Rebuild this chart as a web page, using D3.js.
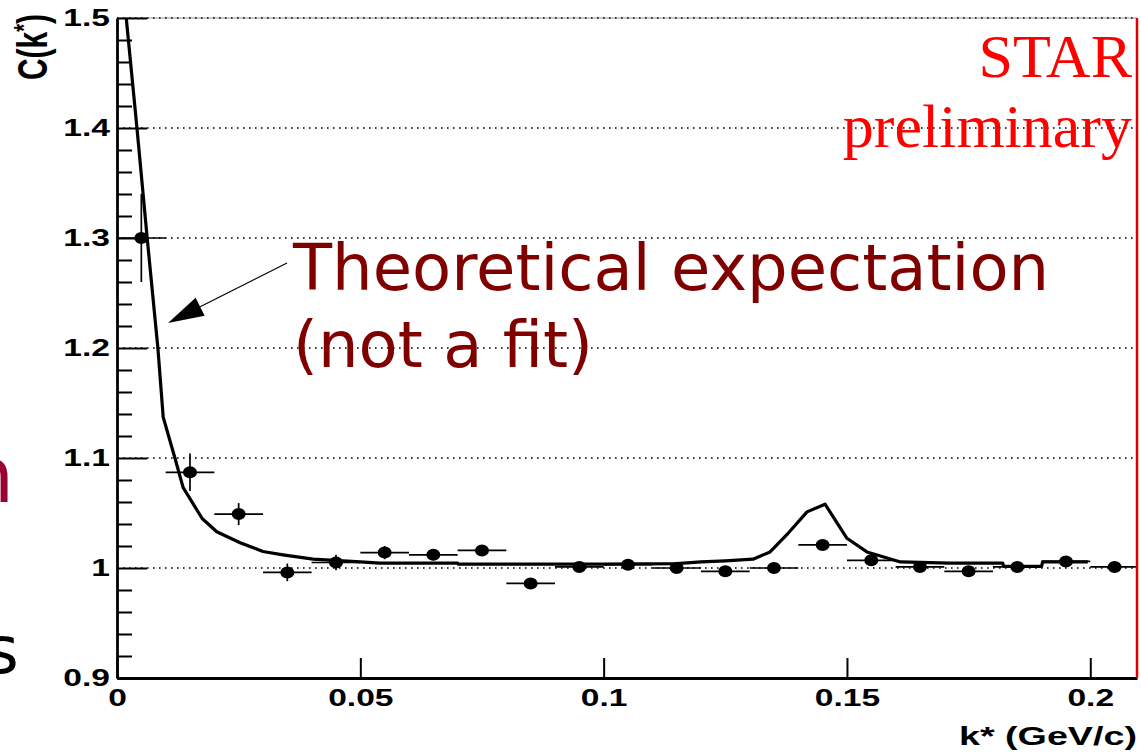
<!DOCTYPE html>
<meta charset="utf-8">
<script src="https://d3js.org/d3.v7.min.js"></script>
<style>
  body { margin: 0; background: #fff; }
</style>
<body>
<div id="chart"></div>
<script>
// measured correlation function, one point per bin
var kBins = [0.005, 0.015, 0.025, 0.035, 0.045, 0.055, 0.065, 0.075, 0.085, 0.095,
             0.105, 0.115, 0.125, 0.135, 0.145, 0.155, 0.165, 0.175, 0.185, 0.195, 0.205];
var cValues = [1.300, 1.087, 1.049, 0.996, 1.005, 1.014, 1.012, 1.016, 0.986, 1.001,
               1.003, 1.000, 0.997, 1.000, 1.021, 1.007, 1.001, 0.997, 1.001, 1.006, 1.001];
var cErrors = [0.040, 0.017, 0.010, 0.008, 0.007, 0.006, 0.005, 0.005, 0.004, 0.004,
               0.004, 0.004, 0.004, 0.004, 0.004, 0.004, 0.004, 0.004, 0.004, 0.004, 0.004];
var binHalfWidth = 0.005;

// theoretical expectation (drawn as a polyline)
var theoryK = [0.0019, 0.0041, 0.0062, 0.0084, 0.0095, 0.0119, 0.0136, 0.0175, 0.0205, 0.0253,
               0.0300, 0.0341, 0.0403, 0.0500, 0.0540, 0.0700, 0.0701, 0.1000, 0.1150, 0.1200,
               0.1250, 0.1307, 0.1342, 0.1380, 0.1418, 0.1455, 0.1500, 0.1541, 0.1610, 0.1710,
               0.1820, 0.1822, 0.1900, 0.1902, 0.1995];
var theoryC = [1.500, 1.400, 1.300, 1.200, 1.137, 1.100, 1.073, 1.045, 1.033, 1.023,
               1.015, 1.012, 1.008, 1.0055, 1.0045, 1.0045, 1.0035, 1.0035, 1.004, 1.0055,
               1.0065, 1.008, 1.0146, 1.032, 1.051, 1.058, 1.027, 1.0146, 1.0055, 1.0045,
               1.0045, 1.0015, 1.0015, 1.0055, 1.0055];

var yTickValues = [0.9, 1.0, 1.1, 1.2, 1.3, 1.4, 1.5];
var yTickLabels = ["0.9", "1", "1.1", "1.2", "1.3", "1.4", "1.5"];
var xTickValues = [0, 0.05, 0.1, 0.15, 0.2];
var xTickLabels = ["0", "0.05", "0.1", "0.15", "0.2"];

var W = 1141, H = 752;
var plotLeft = 117, plotRight = 1137, plotTop = 18, plotBottom = 678;
var stretch = 1.4;   // the plot text is wider than it is tall

var svg = d3.select("#chart")
  .append("svg")
    .attr("width", W)
    .attr("height", H)
    .style("display", "block");

var x = d3.scaleLinear().domain([0, 0.2096]).range([plotLeft, plotRight]);
var y = d3.scaleLinear().domain([0.9, 1.5]).range([plotBottom, plotTop]);

svg.append("clipPath").attr("id", "plotclip")
  .append("rect")
    .attr("x", plotLeft).attr("y", plotTop)
    .attr("width", plotRight - plotLeft).attr("height", plotBottom - plotTop);

// top frame, faint
svg.append("line")
  .attr("x1", plotLeft).attr("x2", plotRight).attr("y1", plotTop).attr("y2", plotTop)
  .attr("stroke", "#999").attr("stroke-width", 1);

// dotted grid
svg.append("g").selectAll("line")
  .data(yTickValues.filter(d => d > 0.9))
  .enter().append("line")
    .attr("x1", plotLeft).attr("x2", plotRight)
    .attr("y1", d => y(d)).attr("y2", d => y(d))
    .attr("stroke", "#000")
    .attr("stroke-width", 1.4)
    .attr("stroke-dasharray", "1.6,4.4");

// theory curve
var line = d3.line()
  .x((d, i) => x(theoryK[i]))
  .y((d, i) => y(theoryC[i]));

svg.append("path")
  .datum(theoryK)
  .attr("clip-path", "url(#plotclip)")
  .attr("d", line)
  .attr("fill", "none")
  .attr("stroke", "#000")
  .attr("stroke-width", 3.2)
  .attr("stroke-linejoin", "round");

// data points with error bars
var pts = svg.append("g").attr("clip-path", "url(#plotclip)")
  .selectAll("g")
  .data(kBins)
  .enter().append("g");

pts.append("line")
  .attr("x1", d => x(d - binHalfWidth)).attr("x2", d => x(d + binHalfWidth))
  .attr("y1", (d, i) => y(cValues[i])).attr("y2", (d, i) => y(cValues[i]))
  .attr("stroke", "#000").attr("stroke-width", 1.7);

pts.append("line")
  .attr("x1", d => x(d)).attr("x2", d => x(d))
  .attr("y1", (d, i) => y(cValues[i] - cErrors[i]))
  .attr("y2", (d, i) => y(cValues[i] + cErrors[i]))
  .attr("stroke", "#000").attr("stroke-width", 1.7);

pts.append("ellipse")
  .attr("cx", d => x(d))
  .attr("cy", (d, i) => y(cValues[i]))
  .attr("rx", 7).attr("ry", 6)
  .attr("fill", "#000");

// axes
function styleTicks(g) {
  g.attr("font-family", "'Liberation Sans', Arial, sans-serif")
   .attr("font-size", 24)
   .attr("font-weight", "bold");
  g.selectAll(".tick line").attr("stroke", "#000").attr("stroke-width", 2);
  g.select(".domain").attr("stroke", "#000").attr("stroke-width", 2.8);
  g.selectAll("text").attr("fill", "#000").attr("transform", "scale(" + stretch + ",1)");
}

var gyMinor = svg.append("g")
  .attr("transform", "translate(" + plotLeft + ",0)")
  .call(d3.axisLeft(y)
    .tickValues(y.ticks(30).filter(d => Math.abs(d * 10 - Math.round(d * 10)) > 1e-6))
    .tickSize(-15).tickSizeOuter(0).tickFormat(""));
gyMinor.select(".domain").remove();
gyMinor.selectAll(".tick line").attr("stroke", "#000").attr("stroke-width", 2);

var gy = svg.append("g")
  .attr("transform", "translate(" + plotLeft + ",0)")
  .call(d3.axisLeft(y)
    .tickValues(yTickValues)
    .tickFormat((d, i) => yTickLabels[i])
    .tickSize(-30).tickSizeOuter(0).tickPadding(5));
styleTicks(gy);

var gx = svg.append("g")
  .attr("transform", "translate(0," + plotBottom + ")")
  .call(d3.axisBottom(x)
    .tickValues(xTickValues)
    .tickFormat((d, i) => xTickLabels[i])
    .tickSize(-20).tickSizeOuter(0).tickPadding(11));
styleTicks(gx);

// red right edge of the frame
svg.append("line")
  .attr("x1", plotRight).attr("x2", plotRight).attr("y1", plotTop).attr("y2", plotBottom)
  .attr("stroke", "#e00000").attr("stroke-width", 2.5);

// axis titles
var yTitle = svg.append("text")
  .attr("transform", "translate(47,14) scale(" + stretch + ",1) rotate(-90)")
  .attr("text-anchor", "end")
  .attr("font-family", "'Liberation Sans', Arial, sans-serif")
  .attr("font-weight", "bold")
  .attr("font-size", 30);
yTitle.append("tspan").text("C(k");
yTitle.append("tspan").attr("dy", -10).attr("font-size", 20).text("*");
yTitle.append("tspan").attr("dy", 10).text(")");

svg.append("text")
  .attr("transform", "translate(1137,745) scale(1.45,1)")
  .attr("text-anchor", "end")
  .attr("font-family", "'Liberation Sans', Arial, sans-serif")
  .attr("font-weight", "bold")
  .attr("font-size", 26)
  .text("k* (GeV/c)");

// STAR label
svg.append("text")
  .attr("x", 1132).attr("y", 77)
  .attr("text-anchor", "end")
  .attr("font-family", "'Liberation Serif', 'Times New Roman', serif")
  .attr("font-size", 62)
  .attr("fill", "#ff0000")
  .text("STAR");
svg.append("text")
  .attr("x", 1132).attr("y", 147)
  .attr("text-anchor", "end")
  .attr("font-family", "'Liberation Serif', 'Times New Roman', serif")
  .attr("font-size", 62)
  .attr("fill", "#ff0000")
  .text("preliminary");

// annotation
var note = svg.append("g")
  .attr("font-family", "'DejaVu Sans', Verdana, sans-serif")
  .attr("font-size", 64)
  .attr("fill", "#800000");
note.append("text").attr("x", 293).attr("y", 290).text("Theoretical expectation");
note.append("text").attr("x", 293).attr("y", 367).text("(not a fit)");

var tip = [168, 323], tail = [287, 263];
var ang = Math.atan2(tail[1] - tip[1], tail[0] - tip[0]);
var hl = 36, hw = 10;
var bx = tip[0] + hl * Math.cos(ang), by = tip[1] + hl * Math.sin(ang);
svg.append("line")
  .attr("x1", tail[0]).attr("y1", tail[1]).attr("x2", bx).attr("y2", by)
  .attr("stroke", "#000").attr("stroke-width", 1.2);
svg.append("polygon")
  .attr("points", [
    tip,
    [bx + hw * Math.sin(ang), by - hw * Math.cos(ang)],
    [bx - hw * Math.sin(ang), by + hw * Math.cos(ang)]
  ].map(p => p.join(",")).join(" "))
  .attr("fill", "#000");

// slide text cut off at the left edge
svg.append("text")
  .attr("x", 14).attr("y", 502)
  .attr("text-anchor", "end")
  .attr("font-family", "'DejaVu Sans', Verdana, sans-serif")
  .attr("font-size", 77)
  .attr("fill", "#990033")
  .text("n");
svg.append("text")
  .attr("x", 19).attr("y", 673)
  .attr("text-anchor", "end")
  .attr("font-family", "'DejaVu Sans', Verdana, sans-serif")
  .attr("font-size", 66)
  .attr("fill", "#000")
  .text("s");
</script>
</body>
